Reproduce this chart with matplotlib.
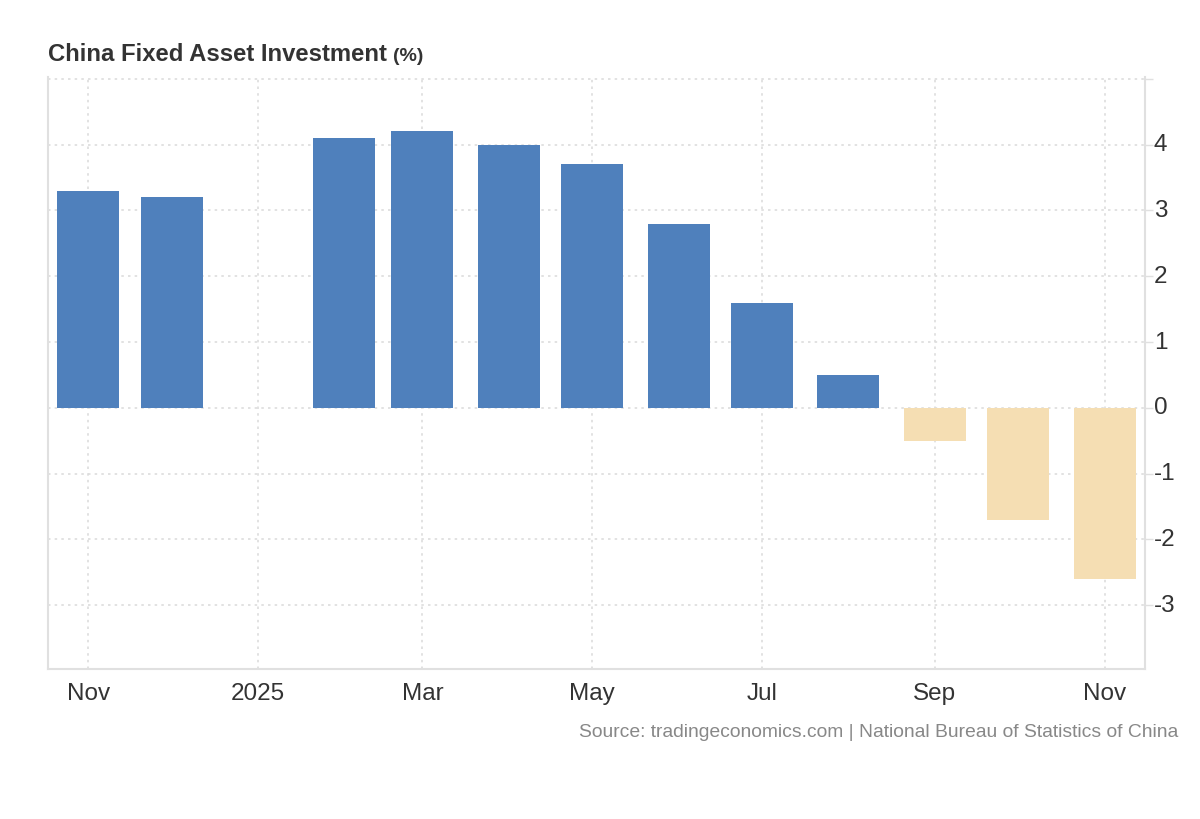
import datetime as dt
import matplotlib
matplotlib.use('Agg')
import matplotlib.pyplot as plt
import matplotlib.dates as mdates
import matplotlib.transforms as mtransforms

# monthly values, y/y %, no January print (Jan-Feb reported together)
months = ['2024-11-01', '2024-12-01', '2025-02-01', '2025-03-01', '2025-04-01',
          '2025-05-01', '2025-06-01', '2025-07-01', '2025-08-01', '2025-09-01',
          '2025-10-01', '2025-11-01']
values = [3.3, 3.2, 4.1, 4.2, 4.0, 3.7, 2.8, 1.6, 0.5, -0.5, -1.7, -2.6]

tick_dates = ['2024-11-01', '2025-01-01', '2025-03-01', '2025-05-01',
              '2025-07-01', '2025-09-01', '2025-11-01']
tick_labels = ['Nov', '2025', 'Mar', 'May', 'Jul', 'Sep', 'Nov']
y_ticks = [-3, -2, -1, 0, 1, 2, 3, 4]

BLUE = '#4f80bc'
BEIGE = '#f5deb3'
GRID = '#dddddd'
AXIS = '#e0e0e0'

plt.rcParams['font.family'] = ['Liberation Sans', 'DejaVu Sans']

x = [mdates.date2num(dt.date.fromisoformat(m)) for m in months]
colors = [BLUE if v >= 0 else BEIGE for v in values]

fig = plt.figure(figsize=(12, 8.2), dpi=100)
ax = fig.add_axes([0.04, 0.183, 0.914, 0.722])

ax.bar(x, values, width=22.25, color=colors, zorder=3)

ax.set_xlim(mdates.date2num(dt.date(2024, 10, 17)) + 0.6,
            mdates.date2num(dt.date(2025, 11, 15)) + 0.4)
ax.set_ylim(-3.97, 5.03)

ax.set_xticks([mdates.date2num(dt.date.fromisoformat(d)) for d in tick_dates])
ax.set_xticklabels(tick_labels)
ax.set_yticks(y_ticks + [5])
ax.set_yticklabels([str(t) for t in y_ticks] + [''])

ax.yaxis.tick_right()
ax.tick_params(axis='y', direction='out', length=6, width=1, color=AXIS,
               labelsize=17.5, labelcolor='#333333', pad=0.5)
ax.tick_params(axis='x', length=0, labelsize=17.5, labelcolor='#333333', pad=9.5)

# highcharts puts the y labels a touch above the grid line
shift = mtransforms.ScaledTranslation(0, 3 / 100, fig.dpi_scale_trans)
for lab in ax.get_yticklabels():
    lab.set_transform(lab.get_transform() + shift)

ax.grid(True, linestyle=(0, (1.5, 2.5)), color=GRID, linewidth=1.2, zorder=0)

ax.spines['top'].set_visible(False)
for side in ['left', 'right', 'bottom']:
    ax.spines[side].set_color(AXIS)
    ax.spines[side].set_linewidth(1.5)

title = fig.text(0.04, 0.926, 'China Fixed Asset Investment', fontsize=17.2, fontweight='bold',
                 color='#333333', ha='left', va='baseline')
unit = fig.text(0, 0.926, '(%)', fontsize=14, fontweight='bold', color='#333333',
                ha='left', va='baseline')
# place the unit right after the title
fig.canvas.draw()
bb = title.get_window_extent()
unit.set_position(((bb.x1 + 6) / fig.bbox.width, 0.926))

fig.text(0.982, 0.107, 'Source: tradingeconomics.com | National Bureau of Statistics of China',
         fontsize=13.85, color='#888888', ha='right', va='center')

fig.savefig('out.png', dpi=100)
